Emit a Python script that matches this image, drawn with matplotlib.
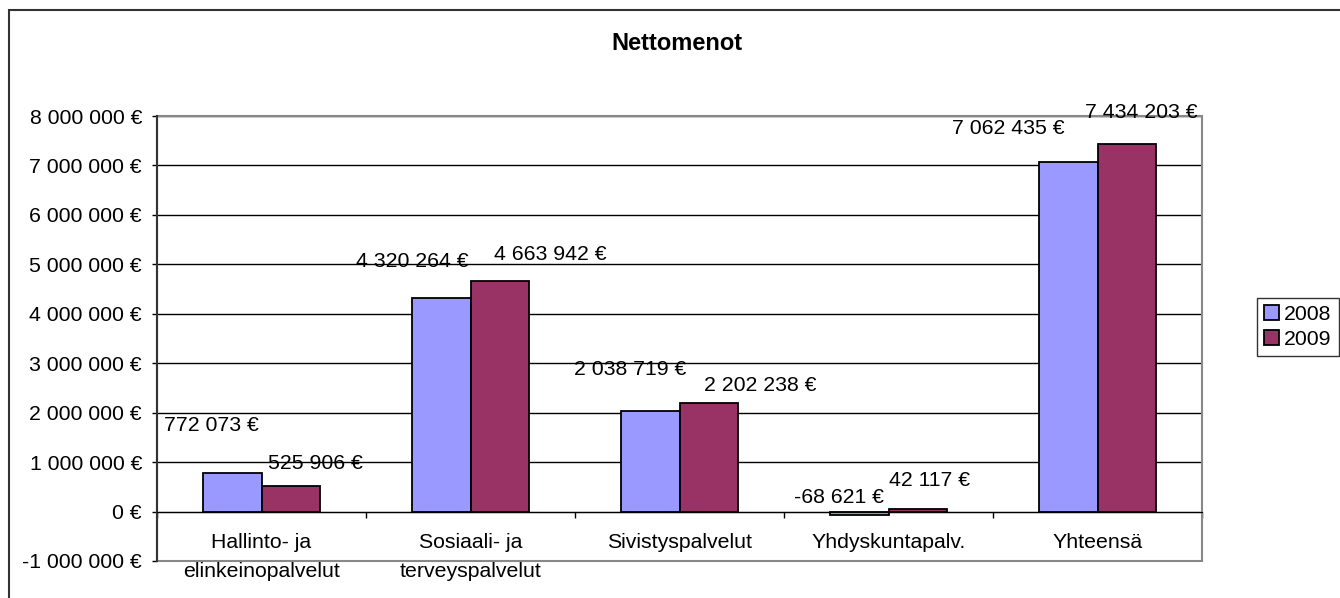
import numpy as np
import matplotlib
matplotlib.use('Agg')
import matplotlib.pyplot as plt
from matplotlib.patches import Rectangle

plt.rcParams['font.family'] = ['Liberation Sans', 'DejaVu Sans']

categories = ['Hallinto- ja\nelinkeinopalvelut', 'Sosiaali- ja\nterveyspalvelut',
              'Sivistyspalvelut', 'Yhdyskuntapalv.', 'Yhteensä']
years = ['2008', '2009']
values_2008 = [772073, 4320264, 2038719, -68621, 7062435]
values_2009 = [525906, 4663942, 2202238, 42117, 7434203]
yticks = np.arange(-1000000, 8000001, 1000000)

colors = ['#9999FF', '#993366']
# label offsets in pixels from the bar top (as in the original sheet)
offsets_2008 = [(-21, 48), (-29, 36), (-20, 41), (-20, 14), (-60, 34)]
offsets_2009 = [(24, 22), (50, 26), (51, 17), (12, 29), (14, 31)]


def euro(v):
    s = '{:,}'.format(int(v)).replace(',', ' ')
    return s + ' €'


fs = 15.3
plt.rcParams['font.size'] = fs
fig = plt.figure(figsize=(13.4, 5.98), dpi=100)
ax = fig.add_axes([157 / 1340, 1 - 561 / 598, 1045 / 1340, 445 / 598])

x = np.arange(len(categories))
w = 0.282
series = [values_2008, values_2009]
offs = [offsets_2008, offsets_2009]
for k in range(2):
    xs = x + (k - 0.5) * w
    ax.bar(xs, series[k], width=w, color=colors[k], edgecolor='black',
           linewidth=1.3, label=years[k], zorder=3)
    for xi, v, (dx, dy) in zip(xs, series[k], offs[k]):
        ax.annotate(euro(v), xy=(xi, max(v, 0)), xytext=(dx, dy),
                    textcoords='offset pixels', ha='center', va='center',
                    fontsize=fs, zorder=5)

ax.set_xlim(-0.5, len(categories) - 0.5)
ax.set_ylim(-1000000, 8000000)
ax.set_yticks(yticks)
ax.set_yticklabels([euro(v) for v in yticks])
ax.yaxis.grid(True, color='black', linewidth=1, zorder=0)
ax.set_axisbelow(True)

# category labels hang just under the zero line, like Excel does
ax.set_xticks(np.arange(-0.5, len(categories), 1))
ax.set_xticklabels([])
ax.tick_params(axis='x', length=4.5, width=1, direction='out')
for xi, name in zip(x, categories):
    ax.annotate(name, xy=(xi, 0), xytext=(0, -21), textcoords='offset pixels',
                ha='center', va='top', fontsize=fs, linespacing=1.7,
                zorder=6, annotation_clip=False)
ax.tick_params(axis='y', length=3.8, width=1, pad=7, labelsize=fs)

ax.spines['bottom'].set_position(('data', 0))
ax.spines['bottom'].set_color('black')
ax.spines['bottom'].set_zorder(4)
ax.spines['left'].set_color('#333333')
ax.spines['left'].set_linewidth(1.5)
ax.spines['top'].set_visible(False)
ax.spines['right'].set_visible(False)
ax.add_patch(Rectangle((0, 0), 1, 1, transform=ax.transAxes, fill=False,
                       edgecolor='#888888', linewidth=1.5, clip_on=False,
                       zorder=1))

leg = ax.legend(loc='center left', bbox_to_anchor=(1257 / 1340, 1 - 327 / 598),
                bbox_transform=fig.transFigure, borderaxespad=0, fontsize=fs,
                frameon=True, fancybox=False, handlelength=0.7,
                handleheight=0.7, handletextpad=0.2, borderpad=0.35,
                labelspacing=0.25)
leg.get_frame().set_edgecolor('black')
leg.get_frame().set_linewidth(1)

fig.text(677 / 1340, 1 - 44 / 598, 'Nettomenot', ha='center', va='center',
         fontsize=17, fontweight='bold')

fig.patches.append(Rectangle((9 / 1340, -0.1), 1.2, 1 - 10 / 598 + 0.1,
                             transform=fig.transFigure, fill=False,
                             edgecolor='#333333', linewidth=1.5))

fig.savefig('out.png', dpi=100)
